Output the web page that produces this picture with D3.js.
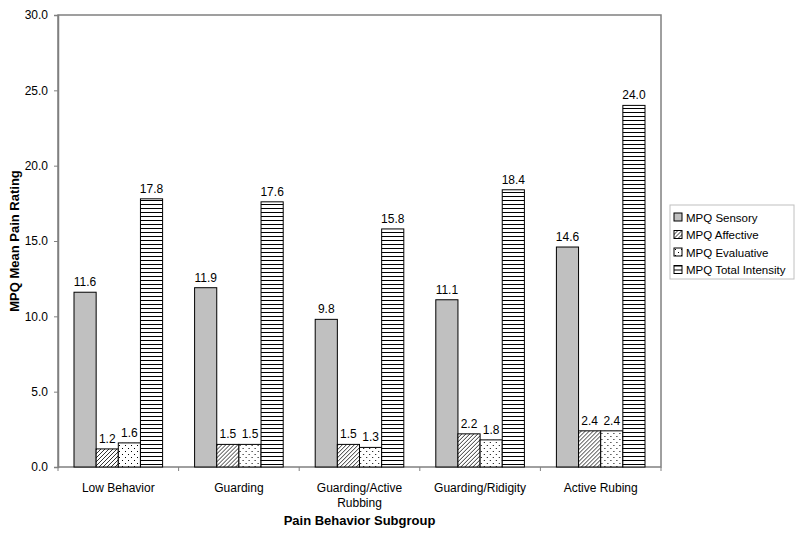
<!DOCTYPE html>
<html><head><meta charset="utf-8">
<script src="https://cdn.jsdelivr.net/npm/d3@7"></script>
<style>body{margin:0;background:#fff;} text{font-family:"Liberation Sans",Arial,sans-serif;}</style>
</head><body><svg id="c" width="800" height="534"></svg>
<script>
const categories = ["Low Behavior", "Guarding", "Guarding/Active\nRubbing", "Guarding/Ridigity", "Active Rubing"];
const seriesNames = ["MPQ Sensory", "MPQ Affective", "MPQ Evaluative", "MPQ Total Intensity"];
const sensory = [11.6, 11.9, 9.8, 11.1, 14.6];
const affective = [1.2, 1.5, 1.5, 2.2, 2.4];
const evaluative = [1.6, 1.5, 1.3, 1.8, 2.4];
const totalIntensity = [17.8, 17.6, 15.8, 18.4, 24.0];
const yTicks = [0, 5, 10, 15, 20, 25, 30];

const series = [sensory, affective, evaluative, totalIntensity];
const svg = d3.select("#c");
const m = {l: 58, t: 15, r: 661, b: 467};

const defs = svg.append("defs");
const pDiag = defs.append("pattern").attr("id","diag").attr("patternUnits","userSpaceOnUse").attr("width",4).attr("height",4);
pDiag.append("rect").attr("width",4).attr("height",4).attr("fill","#fff");
pDiag.append("path").attr("d","M-1,1 l2,-2 M0,4 l4,-4 M3,5 l2,-2").attr("stroke","#000").attr("stroke-width",0.8);
const pDot = defs.append("pattern").attr("id","dots").attr("patternUnits","userSpaceOnUse").attr("width",6).attr("height",6);
pDot.append("rect").attr("width",6).attr("height",6).attr("fill","#fff");
pDot.append("rect").attr("x",1).attr("y",1).attr("width",1).attr("height",1).attr("fill","#000");
pDot.append("rect").attr("x",4).attr("y",4).attr("width",1).attr("height",1).attr("fill","#000");
const pHor = defs.append("pattern").attr("id","hor").attr("patternUnits","userSpaceOnUse").attr("width",4).attr("height",4);
pHor.append("rect").attr("width",4).attr("height",4).attr("fill","#fff");
pHor.append("rect").attr("y",0).attr("width",4).attr("height",1).attr("fill","#000");
const fills = ["#c0c0c0", "url(#diag)", "url(#dots)", "url(#hor)"];

const x0 = d3.scaleBand().domain(d3.range(categories.length)).range([m.l, m.r]).paddingInner(0).paddingOuter(0);
const x1 = d3.scaleBand().domain(d3.range(4)).range([16, x0.bandwidth()-16]);
const y = d3.scaleLinear().domain([0, 30]).range([m.b, m.t]);

// plot border
svg.append("rect").attr("x",m.l).attr("y",m.t).attr("width",m.r-m.l).attr("height",m.b-m.t)
  .attr("fill","none").attr("stroke","#808080").attr("stroke-width",1.5);

const yAxis = svg.append("g").attr("transform",`translate(${m.l},0)`)
  .call(d3.axisLeft(y).tickValues(yTicks).tickFormat(d3.format(".1f")).tickSize(4).tickPadding(6));
yAxis.select(".domain").attr("stroke","#808080").attr("stroke-width",1.5);
yAxis.selectAll(".tick line").attr("stroke","#808080");
yAxis.selectAll("text").attr("font-size",12).attr("fill","#000").attr("font-family","Liberation Sans, Arial, sans-serif");

// category boundary ticks
svg.append("g").selectAll("line").data(d3.range(categories.length+1)).join("line")
  .attr("x1",d=>m.l+d*x0.bandwidth()).attr("x2",d=>m.l+d*x0.bandwidth())
  .attr("y1",m.b).attr("y2",m.b+4).attr("stroke","#808080");

const groups = svg.append("g").selectAll("g").data(categories).join("g")
  .attr("transform",(d,i)=>`translate(${x0(i)},0)`);
groups.each(function(c, i){
  const g = d3.select(this);
  series.forEach((s, k) => {
    g.append("rect").attr("x", x1(k)).attr("width", x1.bandwidth())
      .attr("y", y(s[i])).attr("height", y(0)-y(s[i]))
      .attr("fill", fills[k]).attr("stroke","#000").attr("stroke-width",1);
    g.append("text").attr("x", x1(k)+x1.bandwidth()/2).attr("y", y(s[i])-6)
      .attr("text-anchor","middle").attr("font-size",12).text(s[i].toFixed(1));
  });
  const lines = c.split("\n");
  lines.forEach((ln, j) => {
    g.append("text").attr("x", x0.bandwidth()/2).attr("y", 492 + j*15)
      .attr("text-anchor","middle").attr("font-size",12).text(ln);
  });
});

svg.append("text").attr("x",(m.l+m.r)/2).attr("y",525).attr("text-anchor","middle")
  .attr("font-size",13).attr("font-weight","bold").text("Pain Behavior Subgroup");
svg.append("text").attr("transform",`translate(19,${(m.t+m.b)/2}) rotate(-90)`).attr("text-anchor","middle")
  .attr("font-size",13).attr("font-weight","bold").text("MPQ Mean Pain Rating");

// legend
const lg = svg.append("g").attr("transform","translate(670,205)");
lg.append("rect").attr("width",124).attr("height",74).attr("fill","#fff").attr("stroke","#c0c0c0");
seriesNames.forEach((n, k) => {
  const row = lg.append("g").attr("transform",`translate(4,${8 + k*17.5})`);
  row.append("rect").attr("width",8).attr("height",8).attr("fill",fills[k]).attr("stroke","#000");
  row.append("text").attr("x",12).attr("y",8.5).attr("font-size",11.5).text(n);
});
</script></body></html>
